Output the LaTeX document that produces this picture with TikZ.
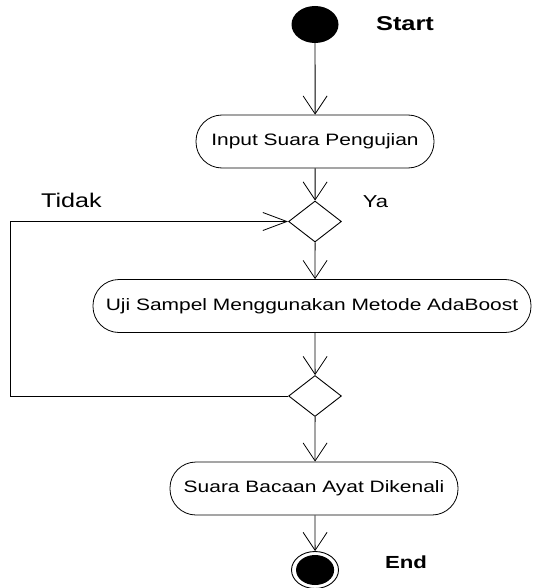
\documentclass[tikz,border=0pt]{standalone}
\usepackage{fontspec}
\setmainfont{Liberation Sans}
\usepackage{tikz}
\usetikzlibrary{arrows.meta,shapes.geometric,positioning,calc}

\tikzset{
  aktivitas/.style={draw, line width=0.8pt, rectangle, rounded corners=26pt, minimum height=53pt, inner sep=0pt, font=\fontsize{16.5}{18}\selectfont},
  keputusan/.style={draw, line width=0.9pt, diamond, minimum width=41.7pt, minimum height=41pt, inner sep=0pt},
  teks/.style={font=\fontsize{#1}{20}\selectfont},
  panah/.style={line width=0.8pt, -{Straight Barb[length=18pt,width=24pt,line width=0.8pt]}},
  panahkiri/.style={line width=0.8pt, -{Straight Barb[length=24pt,width=18pt,line width=0.8pt]}}
}

\begin{document}
\begin{tikzpicture}[x=0.7874pt, y=1pt, xscale=1.27, every node/.append style={transform shape}]
\pgfmathsetmacro{\tengah}{315}
\useasboundingbox (0,0) rectangle (532,-588);

% awal
\node[circle, fill=black, minimum size=37pt, inner sep=0pt] (start) at (\tengah,-24.5) {};
\node[font=\bfseries\fontsize{20}{22}\selectfont] (lstart) at (405,-24) {Start};

% aktivitas
\node[aktivitas, minimum width=187.4pt] (input) at (\tengah,-141.5) {Input Suara Pengujian};
\node[keputusan] (cek1) at (\tengah,-221.5) {};
\node[aktivitas, minimum width=344.9pt] (uji) at (312,-306) {Uji Sampel Menggunakan Metode AdaBoost};
\node[keputusan] (cek2) at (\tengah,-396) {};
\node[aktivitas, minimum width=226.8pt] (suara) at (314,-488.5) {Suara Bacaan Ayat Dikenali};

% akhir
\node[circle, draw, line width=0.9pt, minimum size=37pt, inner sep=0pt] (end) at (\tengah,-570) {};
\node[circle, fill=black, minimum size=30pt, inner sep=0pt] (endisi) at (end) {};
\node[font=\bfseries\fontsize{17.5}{20}\selectfont] (lend) at (406,-562) {End};

\node[teks=19.8] (tidak) at (71.5,-200) {Tidak};
\node[teks=17.3] (ya) at (375.5,-202) {Ya};

\coordinate (kiri) at (10.5,-396);

\draw[panah] (start) -- (input);
\draw[panah] (input) -- (cek1);
\draw[panah] (cek1) -- (cek1 |- uji.north);
\draw[panah] (cek1 |- uji.south) -- (cek2);
\draw[panah] (cek2) -- (cek2 |- suara.north);
\draw[panah] (cek2 |- suara.south) -- (end);
\draw[panahkiri] (cek2.west) -- (kiri) |- (cek1.west);
\end{tikzpicture}
\end{document}
